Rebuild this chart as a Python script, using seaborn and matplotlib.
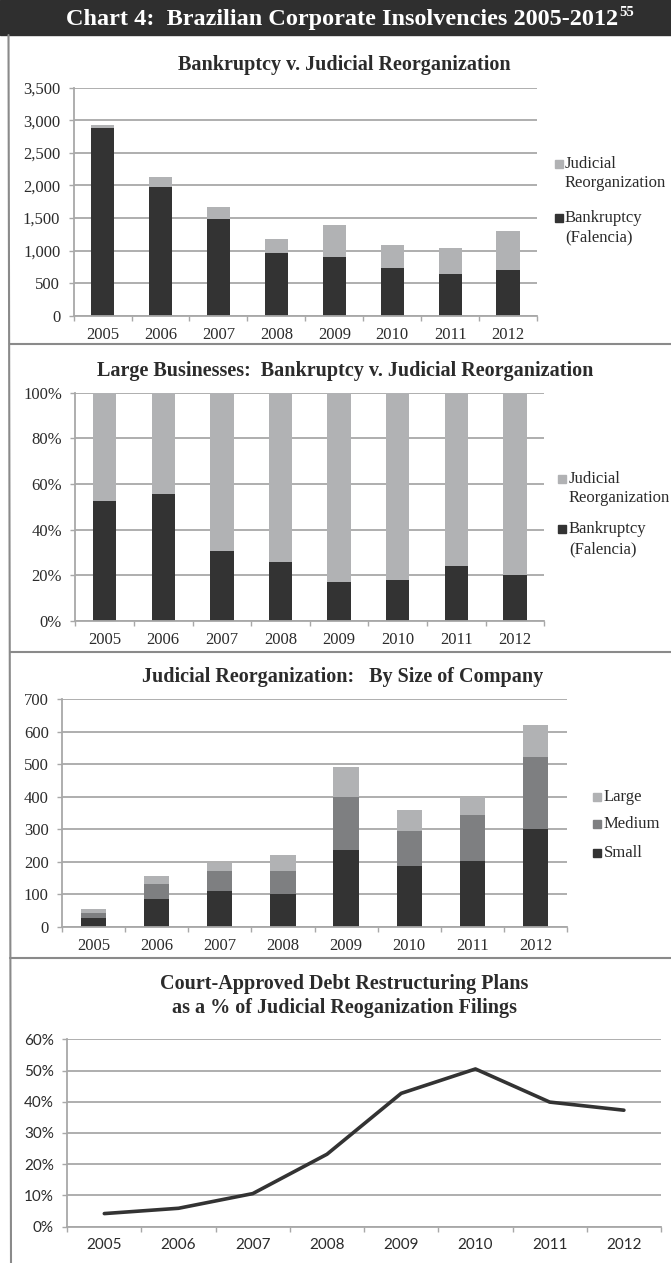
"""Chart 4: Brazilian Corporate Insolvencies 2005-2012 (4 stacked panels)."""

import matplotlib

matplotlib.use("Agg")
import matplotlib.pyplot as plt
import matplotlib.ticker as mticker
import numpy as np
import seaborn as sns
from matplotlib.lines import Line2D
from matplotlib.patches import Rectangle

# --- data ------------------------------------------------------------------
years = ["2005", "2006", "2007", "2008", "2009", "2010", "2011", "2012"]

# panel 1: all businesses (counts)
bankruptcy = [2880, 1980, 1480, 970, 905, 730, 640, 700]
judicial_reorg = [50, 150, 195, 215, 495, 355, 395, 600]

# panel 2: large businesses (% share)
large_bankruptcy_pct = [52.3, 55.4, 30.6, 25.6, 17.1, 17.8, 24.0, 19.9]
large_judicial_pct = [47.7, 44.6, 69.4, 74.4, 82.9, 82.2, 76.0, 80.1]

# panel 3: judicial reorganization by company size
size_small = [28, 84, 110, 99, 236, 187, 203, 299]
size_medium = [13, 48, 61, 72, 164, 107, 140, 222]
size_large = [13, 24, 24, 49, 92, 66, 57, 98]

# panel 4: approved plans as % of filings
approved_pct = [4.2, 5.9, 10.6, 23.2, 42.7, 50.5, 39.9, 37.3]

W, H = 671, 1263
DARK = "#333333"
MID = "#7e7f81"
LIGHT = "#b1b2b4"
GRID = "#a8a8a8"
TEXT = "#2b2b2b"
SERIF = "Liberation Serif"

sns.set_theme(style="white")
plt.rcParams["font.family"] = [SERIF, "DejaVu Serif"]

fig = plt.figure(figsize=(W / 100, H / 100), dpi=100)


def fx(x):
    return x / W


def fy(y):
    return 1 - y / H


def axes_px(left, top, right, bottom):
    return fig.add_axes([fx(left), fy(bottom), (right - left) / W, (bottom - top) / H])


def style_axes(ax, yticks, fmt, tick_font=SERIF, tick_size=12):
    ax.set_xlim(-0.5, len(years) - 0.5)
    ax.set_ylim(yticks[0], yticks[-1])
    ax.set_yticks(yticks)
    ax.yaxis.set_major_formatter(mticker.FuncFormatter(fmt))
    ax.set_xticks(np.arange(-0.5, len(years)), minor=True)
    ax.set_xlabel("")
    ax.set_ylabel("")
    ax.grid(False)
    ax.yaxis.grid(True, color=GRID, lw=1.3)
    ax.set_axisbelow(True)
    for side in ("top", "right"):
        ax.spines[side].set_visible(False)
    for side in ("left", "bottom"):
        ax.spines[side].set_color(GRID)
        ax.spines[side].set_linewidth(1.3)
    ax.tick_params(axis="y", left=True, length=3.6, width=1, color=GRID, pad=6,
                   labelsize=tick_size, labelcolor=TEXT)
    ax.tick_params(axis="x", which="major", bottom=True, length=0, pad=8,
                   labelsize=tick_size, labelcolor=TEXT)
    ax.tick_params(axis="x", which="minor", bottom=True, length=3.6, width=1, color=GRID)
    for lab in ax.get_xticklabels() + ax.get_yticklabels():
        lab.set_family(tick_font)


def legend_px(entries, x_square, x_text, size=12):
    # entries: (colour, [(line text, y)])
    for colour, lines in entries:
        y0 = lines[0][1]
        fig.patches.append(Rectangle((fx(x_square), fy(y0 + 4)), 8 / W, 8 / H,
                                     transform=fig.transFigure, color=colour))
        for text, y in lines:
            fig.text(fx(x_text), fy(y), text, ha="left", va="center",
                     fontsize=size, color=TEXT)


def title_px(text, x, y, size=14.5):
    fig.text(fx(x), fy(y), text, ha="center", va="center", fontsize=size,
             fontweight="bold", color=TEXT, linespacing=1.25)


# --- header and frame --------------------------------------------------------
fig.patches.append(Rectangle((0, fy(35)), 1, 35 / H, transform=fig.transFigure,
                             color="#2f2f2f"))
head = fig.text(fx(66), fy(19), "Chart 4:  Brazilian Corporate Insolvencies 2005-2012",
                ha="left", va="center", fontsize=17.5, fontweight="bold", color="white")
renderer = fig.canvas.get_renderer()
bb = head.get_window_extent(renderer)
fig.text(bb.x1 / W + 1 / W, fy(13), "55", ha="left", va="center", fontsize=10.5,
         fontweight="bold", color="white")

fig.add_artist(Line2D([fx(8.5), fx(11)], [fy(35), 0], transform=fig.transFigure,
                      color="#8a8a8a", lw=1.5))
for y_sep in (344, 652, 958):
    fig.add_artist(Line2D([fx(9.5), 1], [fy(y_sep), fy(y_sep)],
                          transform=fig.transFigure, color="#8a8a8a", lw=1.5))

# --- panel 1: bankruptcy v. judicial reorganization ---------------------------
ax1 = axes_px(73.6, 87.7, 537, 315.7)
total1 = np.add(bankruptcy, judicial_reorg)
sns.barplot(x=years, y=total1, color=LIGHT, saturation=1, width=0.4, linewidth=0, ax=ax1)
sns.barplot(x=years, y=bankruptcy, color=DARK, saturation=1, width=0.4, linewidth=0, ax=ax1)
style_axes(ax1, np.arange(0, 3501, 500), lambda v, p: f"{v:,.0f}")
title_px("Bankruptcy v. Judicial Reorganization", 344, 65)
legend_px([(LIGHT, [("Judicial", 164), ("Reorganization", 183)]),
           (DARK, [("Bankruptcy", 218), ("(Falencia)", 237)])], 555, 565)

# --- panel 2: large businesses % ----------------------------------------------
ax2 = axes_px(75.3, 392.7, 544.3, 620.7)
total2 = np.add(large_bankruptcy_pct, large_judicial_pct)
sns.barplot(x=years, y=total2, color=LIGHT, saturation=1, width=0.4, linewidth=0, ax=ax2)
sns.barplot(x=years, y=large_bankruptcy_pct, color=DARK, saturation=1, width=0.4,
            linewidth=0, ax=ax2)
style_axes(ax2, np.arange(0, 101, 20), lambda v, p: f"{v:.0f}%")
title_px("Large Businesses:  Bankruptcy v. Judicial Reorganization", 345, 371)
legend_px([(LIGHT, [("Judicial", 479), ("Reorganization", 498)]),
           (DARK, [("Bankruptcy", 529), ("(Falencia)", 549)])], 558, 569)

# --- panel 3: by size of company ------------------------------------------------
ax3 = axes_px(62, 699, 567, 926.7)
cum_medium = np.add(size_small, size_medium)
cum_large = cum_medium + np.array(size_large)
sns.barplot(x=years, y=cum_large, color=LIGHT, saturation=1, width=0.4, linewidth=0, ax=ax3)
sns.barplot(x=years, y=cum_medium, color=MID, saturation=1, width=0.4, linewidth=0, ax=ax3)
sns.barplot(x=years, y=size_small, color=DARK, saturation=1, width=0.4, linewidth=0, ax=ax3)
style_axes(ax3, np.arange(0, 701, 100), lambda v, p: f"{v:.0f}")
title_px("Judicial Reorganization:   By Size of Company", 343, 677)
legend_px([(LIGHT, [("Large", 797)]), (MID, [("Medium", 824)]), (DARK, [("Small", 853)])],
          593, 604)

# --- panel 4: approved plans line ----------------------------------------------
ax4 = axes_px(67.2, 1039.3, 661, 1226.7)
sns.lineplot(x=years, y=approved_pct, color=DARK, lw=2.6, ax=ax4)
style_axes(ax4, np.arange(0, 61, 10), lambda v, p: f"{v:.0f}%", tick_font="Lato",
           tick_size=11)
title_px("Court-Approved Debt Restructuring Plans\nas a % of Judicial Reoganization Filings",
         344, 996)

fig.savefig("out.png", dpi=100)
